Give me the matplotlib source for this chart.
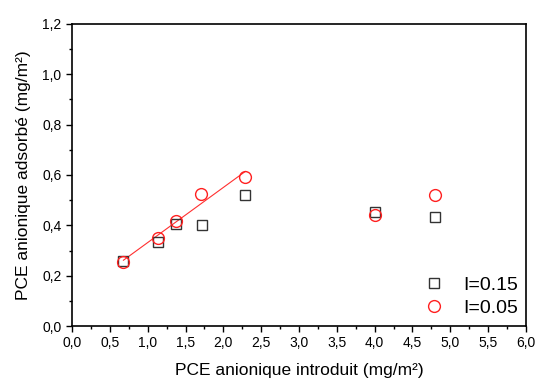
import numpy as np
import matplotlib
matplotlib.use("Agg")
import matplotlib.pyplot as plt
from matplotlib.ticker import MultipleLocator, FuncFormatter

plt.rcParams['font.family'] = ['Liberation Sans', 'DejaVu Sans']

# I = 0.15
x_015 = [0.68, 1.14, 1.37, 1.72, 2.29, 4.00, 4.80]
y_015 = [0.258, 0.335, 0.405, 0.400, 0.519, 0.454, 0.432]
# I = 0.05
x_005 = [0.68, 1.14, 1.37, 1.71, 2.29, 4.00, 4.80]
y_005 = [0.254, 0.350, 0.416, 0.526, 0.591, 0.442, 0.519]

# linear fit on the first five points of I=0.05
n_fit = 5
coef = np.polyfit(x_005[:n_fit], y_005[:n_fit], 1)
xf = np.array([x_005[0], x_005[n_fit - 1]])

fig = plt.figure(figsize=(5.38, 3.81), dpi=100)
ax = fig.add_axes([72 / 538, 1 - 326 / 381, 454 / 538, 302 / 381])

ax.plot(xf, np.polyval(coef, xf), color='#ff3030', lw=0.8, zorder=1)
ax.plot(x_015, y_015, 's', ms=7.5, mfc='none', mec='#333333', mew=1.0,
        label='I=0.15', zorder=2)
ax.plot(x_005, y_005, 'o', ms=8.5, mfc='none', mec='#ff2020', mew=1.0,
        label='I=0.05', zorder=3)

ax.set_xlim(0, 6)
ax.set_ylim(0, 1.2)
ax.xaxis.set_major_locator(MultipleLocator(0.5))
ax.xaxis.set_minor_locator(MultipleLocator(0.25))
ax.yaxis.set_major_locator(MultipleLocator(0.2))
ax.yaxis.set_minor_locator(MultipleLocator(0.1))
comma = FuncFormatter(lambda v, p: f'{v:.1f}'.replace('.', ','))
ax.xaxis.set_major_formatter(comma)
ax.yaxis.set_major_formatter(comma)

ax.tick_params(which='both', direction='out', top=False, right=False,
               width=1.0, labelsize=10, pad=3)
ax.tick_params(which='major', length=4.5)
ax.tick_params(which='minor', length=2.5)
for s in ax.spines.values():
    s.set_linewidth(1.2)

ax.set_xlabel('PCE anionique introduit (mg/m²)', fontsize=12.5, labelpad=9)
ax.set_ylabel('PCE anionique adsorbé (mg/m²)', fontsize=12.5, labelpad=8)

ax.legend(loc='lower right', bbox_to_anchor=(1.0, 0.005), frameon=False,
          fontsize=14, handletextpad=0.75, labelspacing=0.25,
          borderaxespad=0.0, handlelength=1.5)

fig.savefig('out.png', dpi=100)
